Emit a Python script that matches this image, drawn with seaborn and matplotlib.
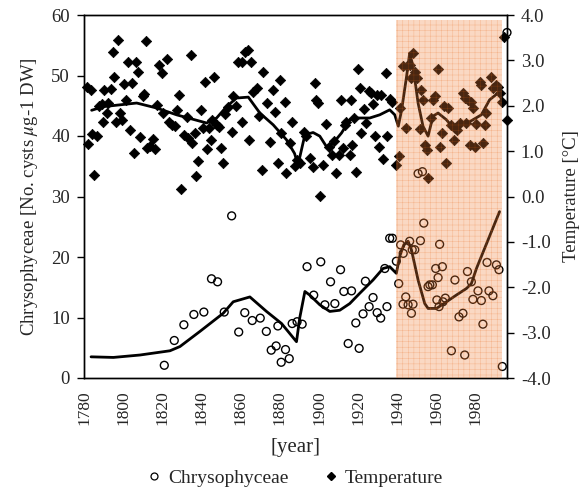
import matplotlib
matplotlib.use("Agg")
import matplotlib.pyplot as plt
import seaborn as sns
import numpy as np
import pandas as pd
from matplotlib.lines import Line2D

# ---------------- data ----------------
temp_year = [1781.4, 1783.4, 1782.2, 1784.2, 1786.5, 1785.1, 1787.8, 1789.0, 1789.5, 1790.4,
             1791.6, 1792.4, 1793.8, 1794.6, 1795.5, 1796.3, 1797.5, 1798.4, 1799.4, 1800.4,
             1801.4, 1802.6, 1803.5, 1804.3, 1805.5, 1806.5, 1807.7, 1808.6, 1809.9, 1810.6,
             1811.6, 1812.3, 1813.7, 1815.1, 1816.2, 1817.4, 1818.4, 1819.6, 1820.5, 1822.5,
             1823.5, 1824.7, 1826.4, 1827.3, 1828.5, 1829.6, 1831.0, 1832.7, 1832.9, 1834.6,
             1835.4, 1836.6, 1837.1, 1838.3, 1839.5, 1840.6, 1841.7, 1842.6, 1843.9, 1844.6,
             1845.6, 1846.4, 1847.7, 1849.0, 1850.2, 1851.0, 1852.1, 1853.6, 1855.4, 1856.2,
             1857.6, 1858.7, 1860.5, 1860.9, 1862.3, 1863.5, 1864.3, 1865.2, 1866.4, 1868.1,
             1869.4, 1870.7, 1871.5, 1873.2, 1874.9, 1876.3, 1877.4, 1879.1, 1880.0, 1880.8,
             1882.6, 1883.1, 1885.1, 1886.3, 1887.7, 1888.8, 1890.2, 1892.4, 1893.6, 1895.3,
             1896.7, 1897.8, 1898.4, 1899.5, 1900.7, 1902.1, 1903.8, 1905.2, 1906.4, 1907.6,
             1908.9, 1910.3, 1911.0, 1912.0, 1913.2, 1914.0, 1915.7, 1916.1, 1917.1, 1917.8,
             1919.1, 1920.0, 1920.8, 1921.3, 1922.9, 1924.2, 1925.6, 1926.8, 1927.6, 1928.5,
             1929.6, 1930.7, 1931.9, 1932.7, 1934.1, 1934.7, 1936.1, 1937.3, 1939.5, 1940.9,
             1941.2, 1942.9, 1944.3, 1944.9, 1946.3, 1947.1, 1948.0, 1948.9, 1950.1, 1951.4,
             1952.3, 1953.1, 1954.0, 1955.2, 1955.7, 1957.3, 1958.2, 1959.1, 1960.8, 1961.6,
             1963.0, 1963.7, 1965.1, 1965.9, 1967.6, 1968.8, 1969.3, 1970.5, 1971.8, 1973.5,
             1974.4, 1975.3, 1976.1, 1977.3, 1977.8, 1978.6, 1979.5, 1980.4, 1982.0, 1982.9,
             1983.7, 1984.6, 1985.5, 1988.0, 1988.8, 1990.2, 1991.4, 1992.2, 1993.6, 1994.3,
             1996.0]
temp_val = [2.42, 2.34, 1.16, 1.38, 1.33, 0.47, 2.00, 2.04, 1.64, 2.34,
            1.85, 2.07, 2.36, 3.19, 2.64, 1.64, 3.45, 1.85, 1.69, 2.48,
            2.12, 2.97, 1.46, 2.51, 0.95, 2.97, 2.75, 1.31, 2.21, 2.26,
            3.42, 1.07, 1.12, 1.27, 1.05, 2.02, 2.90, 2.72, 1.84, 3.02,
            1.64, 1.58, 1.56, 1.91, 2.23, 0.17, 1.36, 1.76, 1.29, 3.12,
            1.18, 1.40, 0.45, 0.78, 1.91, 1.51, 2.53, 1.05, 1.51, 1.25,
            1.69, 2.64, 1.58, 1.54, 1.07, 0.73, 1.82, 1.97, 1.42, 2.21,
            2.00, 2.97, 1.64, 2.97, 3.19, 3.23, 1.24, 2.97, 2.31, 2.39,
            1.78, 0.58, 2.75, 2.07, 1.20, 2.35, 1.87, 0.73, 2.57, 1.41,
            2.09, 0.52, 1.18, 1.65, 0.67, 0.81, 0.73, 1.43, 1.33, 0.85,
            0.65, 2.50, 2.13, 2.06, 0.01, 0.69, 1.60, 1.10, 0.92, 1.22,
            0.52, 0.92, 2.13, 1.07, 1.58, 1.65, 0.92, 2.13, 1.14, 1.73,
            0.54, 2.82, 2.39, 1.40, 1.93, 1.62, 2.33, 2.28, 2.04, 1.34,
            2.24, 1.10, 2.24, 0.83, 2.72, 1.33, 2.14, 2.09, 0.70, 0.89,
            1.95, 2.87, 1.51, 2.87, 2.90, 2.61, 3.16, 2.75, 2.61, 1.49,
            2.35, 2.13, 1.14, 1.03, 0.41, 1.73, 2.13, 2.21, 2.82, 1.10,
            1.40, 1.99, 0.74, 1.95, 1.58, 1.25, 1.51, 1.47, 1.62, 2.28,
            2.17, 1.62, 2.13, 1.14, 2.09, 1.95, 1.10, 1.60, 2.53, 2.46,
            1.18, 1.58, 1.84, 2.64, 2.39, 2.46, 2.42, 2.28, 2.09, 3.52,
            1.69]

temp_smooth_year = [1783.9, 1789.8, 1806.9, 1817.1, 1827.3, 1842.6, 1847.7, 1852.8, 1857.9,
                    1863.9, 1869.8, 1876.6, 1883.4, 1887.5, 1889.3, 1892.8, 1897.0, 1900.4,
                    1903.8, 1907.3, 1911.5, 1915.7, 1920.0, 1925.9, 1931.0, 1936.1, 1938.7,
                    1940.5, 1942.2, 1944.7, 1946.3, 1948.0, 1950.6, 1953.1, 1955.7, 1958.2,
                    1960.8, 1965.1, 1968.5, 1971.8, 1977.0, 1982.9, 1987.1, 1991.4, 1993.6]
temp_smooth_val = [1.90, 1.98, 2.06, 1.95, 1.80, 1.62, 1.73, 1.98, 2.17,
                   2.19, 1.84, 1.58, 1.25, 0.95, 0.70, 1.36, 1.41, 1.33,
                   1.10, 1.18, 1.40, 1.69, 1.73, 1.73, 1.80, 1.91, 1.80,
                   1.55, 1.91, 2.64, 3.16, 2.87, 2.06, 1.55, 1.33, 1.77,
                   1.84, 1.69, 1.51, 1.58, 1.65, 1.80, 2.13, 2.28, 2.13]

chry_year = [1821.0, 1826.1, 1831.0, 1836.1, 1841.2, 1845.1, 1848.2, 1851.6, 1855.4, 1859.0,
             1862.1, 1865.9, 1870.0, 1873.1, 1875.6, 1878.1, 1879.0, 1880.7, 1882.9, 1884.8,
             1886.3, 1888.8, 1891.4, 1893.9, 1897.3, 1900.9, 1903.0, 1905.9, 1908.1, 1911.0,
             1912.7, 1914.9, 1916.6, 1918.8, 1920.5, 1922.5, 1923.7, 1925.6, 1927.6, 1929.7,
             1931.5, 1933.6, 1934.7, 1936.1, 1937.5, 1939.5, 1940.7, 1941.7, 1942.9, 1943.0,
             1944.3, 1945.5, 1946.3, 1947.2, 1947.6, 1948.0, 1948.9, 1950.6, 1951.8, 1952.8,
             1953.5, 1955.7, 1956.6, 1957.9, 1959.6, 1960.2, 1960.8, 1961.3, 1961.6, 1963.0,
             1963.3, 1964.5, 1967.6, 1969.4, 1971.5, 1973.5, 1974.4, 1975.8, 1977.8, 1978.6,
             1981.2, 1982.9, 1983.7, 1985.8, 1986.8, 1988.8, 1990.6, 1991.9, 1993.6, 1996.0]
chry_val = [2.1, 6.2, 8.8, 10.5, 10.9, 16.4, 15.9, 10.9, 26.8, 7.6,
            10.8, 9.5, 9.9, 7.7, 4.6, 5.3, 8.6, 2.6, 4.7, 3.2,
            9.0, 9.3, 8.9, 18.4, 13.7, 19.2, 12.1, 15.9, 12.3, 17.9,
            14.3, 5.7, 14.4, 9.1, 4.9, 10.6, 16.0, 11.8, 13.3, 10.8,
            9.9, 18.1, 11.8, 23.1, 23.1, 19.3, 15.6, 22.0, 12.2, 20.6,
            13.4, 12.1, 22.6, 10.7, 21.2, 12.2, 21.2, 33.8, 22.7, 34.1,
            25.6, 15.1, 15.4, 15.4, 18.1, 12.9, 16.6, 11.8, 22.1, 18.4,
            12.6, 13.2, 4.5, 16.2, 10.1, 10.7, 3.8, 17.6, 15.9, 13.0,
            14.4, 12.8, 8.9, 19.1, 14.4, 13.6, 18.7, 17.9, 1.9, 57.1]

chry_smooth_year = [1783.6, 1795.0, 1808.6, 1823.9, 1829.0, 1839.2, 1851.1, 1856.2, 1864.7,
                    1873.2, 1880.9, 1888.5, 1890.2, 1892.8, 1895.3, 1900.4, 1905.5, 1910.6,
                    1915.7, 1920.8, 1927.6, 1932.7, 1936.1, 1939.5, 1941.2, 1943.3, 1945.5,
                    1947.2, 1950.6, 1954.0, 1955.7, 1960.0, 1965.1, 1970.1, 1975.3, 1977.8,
                    1980.4, 1986.3, 1992.2]
chry_smooth_val = [3.5, 3.4, 3.8, 4.5, 5.2, 7.7, 10.7, 12.6, 13.4,
                   11.0, 9.0, 6.0, 10.0, 14.3, 13.7, 12.1, 11.0, 11.2,
                   12.3, 14.0, 16.2, 18.1, 18.4, 17.3, 20.1, 22.0, 22.6,
                   21.2, 16.2, 12.3, 11.5, 11.5, 12.6, 13.7, 14.8, 15.6,
                   18.1, 22.8, 27.5]

x_ticks = [1780, 1800, 1820, 1840, 1860, 1880, 1900, 1920, 1940, 1960, 1980]
left_ticks = [0, 10, 20, 30, 40, 50, 60]
right_ticks = [-4.0, -3.0, -2.0, -1.0, 0.0, 1.0, 2.0, 3.0, 4.0]

# ---------------- style ----------------
sns.set_theme(style="white")
plt.rcParams["font.family"] = ["Liberation Serif", "DejaVu Serif"]
plt.rcParams["mathtext.fontset"] = "stix"
plt.rcParams["hatch.linewidth"] = 0.35

fig = plt.figure(figsize=(5.84, 4.93), dpi=100)
ax = fig.add_axes([84 / 584, 1 - 378 / 493, (507 - 84) / 584, (378 - 15) / 493])
ax2 = ax.twinx()

tdf = pd.DataFrame({"year": temp_year, "temp": temp_val})
cdf = pd.DataFrame({"year": chry_year, "chry": chry_val})
tsm = pd.DataFrame({"year": temp_smooth_year, "temp": temp_smooth_val})
csm = pd.DataFrame({"year": chry_smooth_year, "chry": chry_smooth_val})

sns.scatterplot(data=cdf, x="year", y="chry", ax=ax, marker="o", s=32,
                facecolor="none", edgecolor="black", linewidth=1.0, zorder=3, clip_on=False)
sns.lineplot(data=csm, x="year", y="chry", ax=ax, color="black", lw=2.0,
             estimator=None, sort=True, zorder=3)

sns.scatterplot(data=tdf, x="year", y="temp", ax=ax2, marker="D", s=28,
                color="black", edgecolor="black", linewidth=0.5, zorder=3, clip_on=False)
sns.lineplot(data=tsm, x="year", y="temp", ax=ax2, color="black", lw=2.0,
             estimator=None, sort=True, zorder=3)

# shaded period overlay
ax2.axvspan(1939.5, 1993.5, ymin=0, ymax=0.986, facecolor="#f0803a", alpha=0.30,
            edgecolor="#e8620f", hatch="+++", linewidth=0, zorder=5)

ax.set_xlim(1780, 1996)
ax.set_ylim(0, 60)
ax2.set_ylim(-4, 4)
ax.set_xticks(x_ticks)
ax.set_xticklabels([str(t) for t in x_ticks], rotation=90, fontsize=12.5)
ax.set_yticks(left_ticks)
ax.set_yticklabels([str(t) for t in left_ticks], fontsize=13.5)
ax2.set_yticks(right_ticks)
ax2.set_yticklabels([f"{t:.1f}" for t in right_ticks], fontsize=13.5)

for a in (ax, ax2):
    a.tick_params(direction="out", length=5, width=1, color="black", pad=5)
    for s in a.spines.values():
        s.set_color("black")
        s.set_linewidth(1.0)
    a.grid(False)
ax.tick_params(axis="x", pad=4)
ax2.tick_params(axis="y", labelright=True)

ax.set_xlabel("[year]", fontsize=15, labelpad=9)
ax.set_ylabel("Chrysophyceae [No. cysts $\\mu$g-1 DW]", fontsize=13.5, labelpad=8)
ax2.set_ylabel("Temperature [°C]", fontsize=13.5, labelpad=9)

handles = [Line2D([], [], marker="o", ls="", markerfacecolor="none", markeredgecolor="black",
                  markersize=5, markeredgewidth=0.9),
           Line2D([], [], marker="D", ls="", color="black", markersize=4.5)]
fig.legend(handles, ["Chrysophyceae", "Temperature"], loc="center", ncol=2,
           bbox_to_anchor=(0.505, 0.03), frameon=False, fontsize=14,
           handletextpad=0.3, columnspacing=1.8, handlelength=0.8,
           borderpad=0.1)

fig.savefig("out.png", dpi=100)
